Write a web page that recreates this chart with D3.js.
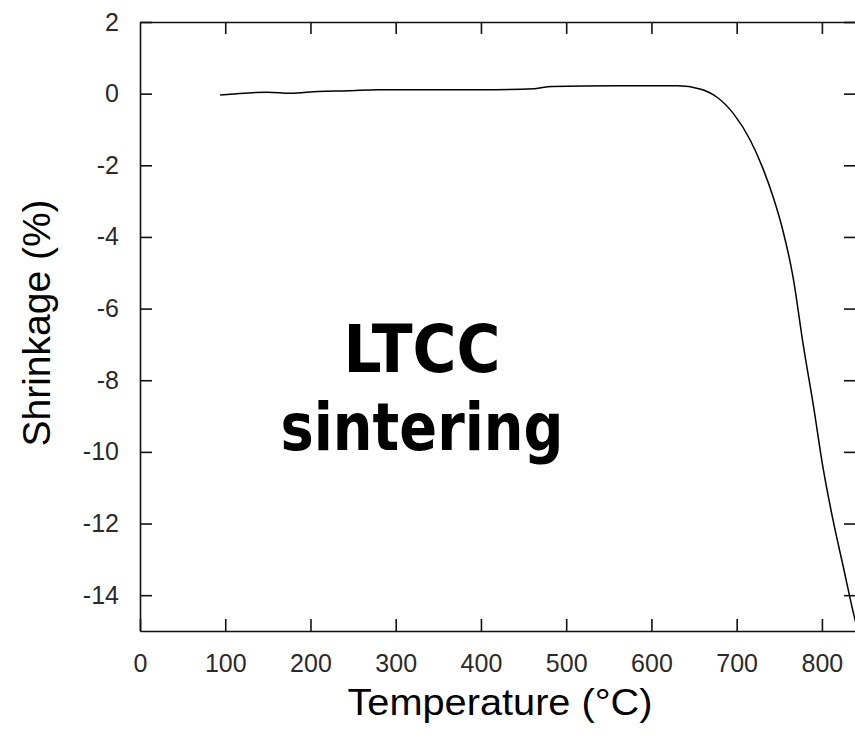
<!DOCTYPE html>
<html>
<head>
<meta charset="utf-8">
<script src="https://cdn.jsdelivr.net/npm/d3@7"></script>
<style>
  body { margin: 0; background: #fff; }
  svg { display: block; }
</style>
</head>
<body>
<svg id="chart" width="855" height="739"></svg>
<script>
// Shrinkage curve
var temperature = [94, 150, 176, 209, 244, 279, 340, 416, 463, 483, 560, 631, 657, 677, 696, 716, 731, 743, 754, 766, 778, 790, 801, 813, 825, 836, 842];
var shrinkage = [-0.04, 0.04, 0.01, 0.06, 0.08, 0.11, 0.11, 0.11, 0.14, 0.2, 0.22, 0.22, 0.13, -0.1, -0.55, -1.3, -2.1, -2.9, -3.8, -5.1, -7.0, -8.7, -10.4, -11.9, -13.2, -14.4, -15.0];

var xTicks = [0, 100, 200, 300, 400, 500, 600, 700, 800];
var yTicks = [2, 0, -2, -4, -6, -8, -10, -12, -14];

var xLabel = "Temperature (\u00B0C)";
var yLabel = "Shrinkage (%)";
var noteLines = ["LTCC", "sintering"];

var svg = d3.select("#chart");

// Plot frame (don't use "top" as a global, it is window.top)
var plotLeft = 140, plotRight = 856, plotTop = 22, plotBottom = 631;

var x = d3.scaleLinear().domain([0, 840]).range([plotLeft, plotRight]);
var y = d3.scaleLinear().domain([-15, 2]).range([plotBottom, plotTop]);

var tickFont = "'Liberation Sans', Arial, sans-serif";
// plain hyphen for negatives, like the original
var plainNum = function(d) { return String(d); };

// Bottom axis, ticks pointing inward
var gx = svg.append("g")
    .attr("transform", "translate(0," + plotBottom + ")")
    .call(d3.axisBottom(x).tickValues(xTicks).tickFormat(plainNum)
        .tickSizeInner(-12).tickSizeOuter(0).tickPadding(23));

// Left axis
var gy = svg.append("g")
    .attr("transform", "translate(" + plotLeft + ",0)")
    .call(d3.axisLeft(y).tickValues(yTicks).tickFormat(plainNum)
        .tickSizeInner(-12).tickSizeOuter(0).tickPadding(21));

// Top and right axes, ticks only
var gt = svg.append("g")
    .attr("transform", "translate(0," + plotTop + ")")
    .call(d3.axisTop(x).tickValues(xTicks.slice(1)).tickSizeInner(-12).tickSizeOuter(0).tickFormat(""));

var gr = svg.append("g")
    .attr("transform", "translate(" + plotRight + ",0)")
    .call(d3.axisRight(y).tickValues(yTicks).tickSizeInner(-12).tickSizeOuter(0).tickFormat(""));

[gx, gy, gt, gr].forEach(function(g) {
    g.selectAll(".domain").attr("stroke", "#111").attr("stroke-width", 1.6);
    g.selectAll(".tick line").attr("stroke", "#111").attr("stroke-width", 1.6);
    g.selectAll(".tick text")
        .attr("font-family", tickFont)
        .attr("font-size", 25)
        .attr("fill", "#2a2a2a");
});

// Clip the curve to the frame
svg.append("clipPath").attr("id", "plot-clip")
  .append("rect")
    .attr("x", plotLeft).attr("y", plotTop)
    .attr("width", plotRight - plotLeft).attr("height", plotBottom - plotTop);

var line = d3.line()
    .x(function(d, i) { return x(temperature[i]); })
    .y(function(d) { return y(d); })
    .curve(d3.curveMonotoneX);

svg.append("path")
    .datum(shrinkage)
    .attr("clip-path", "url(#plot-clip)")
    .attr("fill", "none")
    .attr("stroke", "#000")
    .attr("stroke-width", 1.5)
    .attr("d", line);

// Axis titles
svg.append("text")
    .attr("x", 500)
    .attr("y", 715)
    .attr("text-anchor", "middle")
    .attr("font-family", tickFont)
    .attr("font-size", 36)
    .attr("textLength", 305)
    .attr("lengthAdjust", "spacingAndGlyphs")
    .text(xLabel);

svg.append("text")
    .attr("transform", "translate(50,323) rotate(-90)")
    .attr("text-anchor", "middle")
    .attr("font-family", tickFont)
    .attr("font-size", 39)
    .text(yLabel);

// Annotation in the middle of the plot
var noteWidths = [157, 283];
var noteBaselines = [372, 450];
noteLines.forEach(function(t, i) {
    svg.append("text")
        .attr("x", 422)
        .attr("y", noteBaselines[i])
        .attr("text-anchor", "middle")
        .attr("font-family", "'DejaVu Sans', Verdana, sans-serif")
        .attr("font-weight", "bold")
        .attr("font-size", 66)
        .attr("textLength", noteWidths[i])
        .attr("lengthAdjust", "spacingAndGlyphs")
        .text(t);
});
</script>
</body>
</html>
